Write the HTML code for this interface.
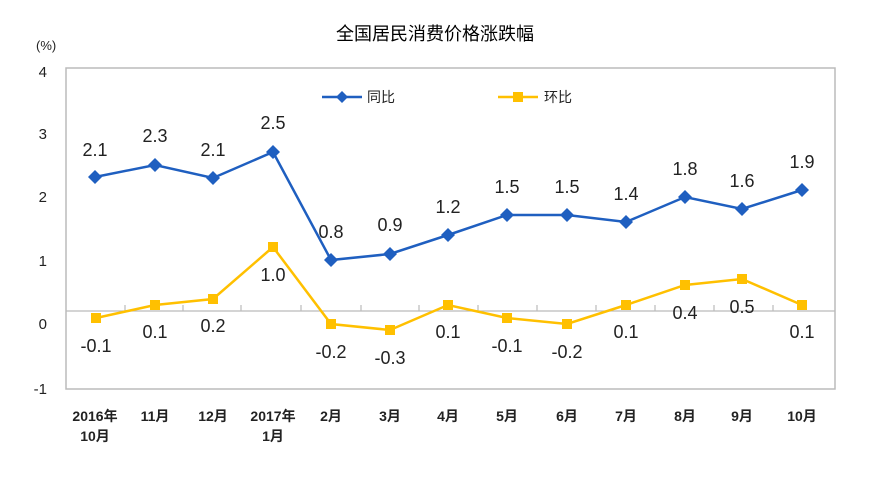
<!DOCTYPE html>
<html><head><meta charset="utf-8"><style>
body{margin:0;background:#fff;width:870px;height:478px;overflow:hidden}
svg text{font-family:"Liberation Sans","Noto Sans CJK SC",sans-serif}
</style></head><body>
<svg width="870" height="478" xmlns="http://www.w3.org/2000/svg">
<text x="435" y="40" text-anchor="middle" font-size="18" fill="#000">全国居民消费价格涨跌幅</text>
<text x="36" y="50" font-size="13" fill="#222">(%)</text>
<rect x="66" y="68" width="769" height="321" fill="none" stroke="#bbb" stroke-width="1.5"/>
<line x1="66" y1="311" x2="835" y2="311" stroke="#bbb" stroke-width="1.2"/>
<g stroke="#bbb" stroke-width="1.2">
<line x1="125" y1="305" x2="125" y2="311"/><line x1="183" y1="305" x2="183" y2="311"/><line x1="241" y1="305" x2="241" y2="311"/><line x1="301" y1="305" x2="301" y2="311"/><line x1="361" y1="305" x2="361" y2="311"/><line x1="419" y1="305" x2="419" y2="311"/><line x1="478" y1="305" x2="478" y2="311"/><line x1="537" y1="305" x2="537" y2="311"/><line x1="596" y1="305" x2="596" y2="311"/><line x1="655" y1="305" x2="655" y2="311"/><line x1="714" y1="305" x2="714" y2="311"/><line x1="773" y1="305" x2="773" y2="311"/>
</g>
<g font-size="15" fill="#222" text-anchor="end">
<text x="47" y="77">4</text><text x="47" y="139">3</text><text x="47" y="202">2</text><text x="47" y="266">1</text><text x="47" y="329">0</text><text x="47" y="394">-1</text>
</g>
<polyline fill="none" stroke="#1f5fc0" stroke-width="2.5" points="95,177 155,165 213,178 273,152 331,260 390,254 448,235 507,215 567,215 626,222 685,197 742,209 802,190"/>
<g fill="#1f5fc0">
<path d="M95,170l7,7-7,7-7-7z"/><path d="M155,158l7,7-7,7-7-7z"/><path d="M213,171l7,7-7,7-7-7z"/><path d="M273,145l7,7-7,7-7-7z"/><path d="M331,253l7,7-7,7-7-7z"/><path d="M390,247l7,7-7,7-7-7z"/><path d="M448,228l7,7-7,7-7-7z"/><path d="M507,208l7,7-7,7-7-7z"/><path d="M567,208l7,7-7,7-7-7z"/><path d="M626,215l7,7-7,7-7-7z"/><path d="M685,190l7,7-7,7-7-7z"/><path d="M742,202l7,7-7,7-7-7z"/><path d="M802,183l7,7-7,7-7-7z"/>
</g>
<polyline fill="none" stroke="#ffc000" stroke-width="2.5" points="96,318 155,305 213,299 273,247 331,324 390,330 448,305 507,318 567,324 626,305 685,285 742,279 802,305"/>
<g fill="#ffc000">
<rect x="91" y="313" width="10" height="10"/><rect x="150" y="300" width="10" height="10"/><rect x="208" y="294" width="10" height="10"/><rect x="268" y="242" width="10" height="10"/><rect x="326" y="319" width="10" height="10"/><rect x="385" y="325" width="10" height="10"/><rect x="443" y="300" width="10" height="10"/><rect x="502" y="313" width="10" height="10"/><rect x="562" y="319" width="10" height="10"/><rect x="621" y="300" width="10" height="10"/><rect x="680" y="280" width="10" height="10"/><rect x="737" y="274" width="10" height="10"/><rect x="797" y="300" width="10" height="10"/>
</g>
<g font-size="18" fill="#222" text-anchor="middle">
<text x="95" y="156">2.1</text><text x="155" y="142">2.3</text><text x="213" y="156">2.1</text><text x="273" y="129">2.5</text><text x="331" y="238">0.8</text><text x="390" y="231">0.9</text><text x="448" y="213">1.2</text><text x="507" y="193">1.5</text><text x="567" y="193">1.5</text><text x="626" y="200">1.4</text><text x="685" y="175">1.8</text><text x="742" y="187">1.6</text><text x="802" y="168">1.9</text>
<text x="96" y="352">-0.1</text><text x="155" y="338">0.1</text><text x="213" y="332">0.2</text><text x="273" y="281">1.0</text><text x="331" y="358">-0.2</text><text x="390" y="364">-0.3</text><text x="448" y="338">0.1</text><text x="507" y="352">-0.1</text><text x="567" y="358">-0.2</text><text x="626" y="338">0.1</text><text x="685" y="319">0.4</text><text x="742" y="313">0.5</text><text x="802" y="338">0.1</text>
</g>
<g font-size="14" font-weight="bold" fill="#222" text-anchor="middle">
<text x="95" y="421">2016年</text><text x="95" y="441">10月</text><text x="155" y="421">11月</text><text x="213" y="421">12月</text><text x="273" y="421">2017年</text><text x="273" y="441">1月</text><text x="331" y="421">2月</text><text x="390" y="421">3月</text><text x="448" y="421">4月</text><text x="507" y="421">5月</text><text x="567" y="421">6月</text><text x="626" y="421">7月</text><text x="685" y="421">8月</text><text x="742" y="421">9月</text><text x="802" y="421">10月</text>
</g>
<line x1="322" y1="97" x2="362" y2="97" stroke="#1f5fc0" stroke-width="2.5"/><path d="M342,91l6,6-6,6-6-6z" fill="#1f5fc0"/>
<text x="367" y="102" font-size="14" fill="#222">同比</text>
<line x1="498" y1="97" x2="538" y2="97" stroke="#ffc000" stroke-width="2.5"/><rect x="513" y="92" width="10" height="10" fill="#ffc000"/>
<text x="544" y="102" font-size="14" fill="#222">环比</text>
</svg>
</body></html>
